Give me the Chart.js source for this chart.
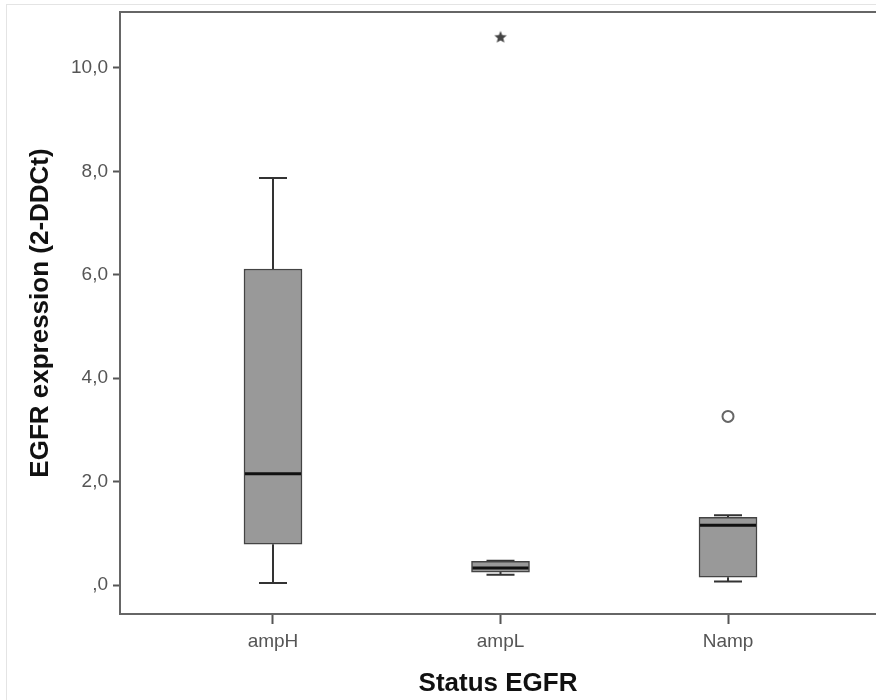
<!DOCTYPE html>
<html>
<head>
<meta charset="utf-8">
<title>EGFR expression by status</title>
<script src="https://cdn.jsdelivr.net/npm/chart.js@4/dist/chart.umd.min.js"></script>
<style>
    html, body { margin: 0; padding: 0; background: #fff; overflow: hidden; }
    #wrap { position: relative; width: 876px; height: 700px; overflow: hidden; }
    #frame { position: absolute; left: 6px; top: 4px; width: 900px; height: 720px;
             border-left: 1px solid #e4e4e4; border-top: 1px solid #e4e4e4; }
    canvas { position: absolute; left: 0; top: 0; }
</style>
</head>
<body>
<div id="wrap">
    <div id="frame"></div>
    <canvas id="chart" width="876" height="700"></canvas>
</div>
<script>
// Box plot data
const categories = ['ampH', 'ampL', 'Namp'];
const whiskerLow  = [0.04, 0.20, 0.07];
const boxLow      = [0.79, 0.25, 0.15];
const medians     = [2.15, 0.33, 1.155];
const boxHigh     = [6.11, 0.46, 1.31];
const whiskerHigh = [7.87, 0.47, 1.35];
// extreme (*) and outlier (o) points: category index + value
const extremeCats = [1];
const extremeValues = [10.6];
const outlierCats = [2];
const outlierValues = [3.26];

const yTickValues = [0, 2, 4, 6, 8, 10];
const yTickLabels = [',0', '2,0', '4,0', '6,0', '8,0', '10,0'];

// filled five point star used for the extreme value
function makeStar(size, color) {
    const c = document.createElement('canvas');
    c.width = size; c.height = size;
    const g = c.getContext('2d');
    const cx = size / 2, cy = size / 2 + 0.5, R = size / 2 - 0.5, r = R * 0.45;
    g.beginPath();
    for (let i = 0; i < 10; i++) {
        const a = -Math.PI / 2 + i * Math.PI / 5;
        const rad = i % 2 === 0 ? R : r;
        g.lineTo(cx + rad * Math.cos(a), cy + rad * Math.sin(a));
    }
    g.closePath();
    g.fillStyle = color;
    g.fill();
    return c;
}

// whiskers behind the boxes, medians on top of them, and the top frame line
const boxPlotPlugin = {
    id: 'boxPlot',
    beforeDatasetsDraw(chart) {
        const ctx = chart.ctx;
        const xs = chart.scales.x, ys = chart.scales.y;
        ctx.save();
        ctx.strokeStyle = '#333';
        ctx.lineWidth = 2;
        categories.forEach((c, i) => {
            const x = xs.getPixelForValue(i + 1);
            const capHalf = 14;
            ctx.beginPath();
            ctx.moveTo(x, ys.getPixelForValue(whiskerLow[i]));
            ctx.lineTo(x, ys.getPixelForValue(boxLow[i]));
            ctx.moveTo(x, ys.getPixelForValue(boxHigh[i]));
            ctx.lineTo(x, ys.getPixelForValue(whiskerHigh[i]));
            ctx.moveTo(x - capHalf, ys.getPixelForValue(whiskerLow[i]));
            ctx.lineTo(x + capHalf, ys.getPixelForValue(whiskerLow[i]));
            ctx.moveTo(x - capHalf, ys.getPixelForValue(whiskerHigh[i]));
            ctx.lineTo(x + capHalf, ys.getPixelForValue(whiskerHigh[i]));
            ctx.stroke();
        });
        ctx.restore();
    },
    afterDatasetsDraw(chart) {
        const ctx = chart.ctx;
        const xs = chart.scales.x, ys = chart.scales.y;
        const area = chart.chartArea;
        ctx.save();
        ctx.strokeStyle = '#111';
        ctx.lineWidth = 3;
        categories.forEach((c, i) => {
            const x = xs.getPixelForValue(i + 1);
            const y = ys.getPixelForValue(medians[i]);
            ctx.beginPath();
            ctx.moveTo(x - 28, y);
            ctx.lineTo(x + 28, y);
            ctx.stroke();
        });
        // top frame line (right side of the frame is off the picture)
        ctx.strokeStyle = '#666';
        ctx.lineWidth = 2;
        ctx.beginPath();
        ctx.moveTo(area.left, area.top);
        ctx.lineTo(chart.width + 10, area.top);
        ctx.stroke();
        ctx.restore();
    }
};

document.addEventListener('DOMContentLoaded', function() {
    const ctx = document.getElementById('chart');

    const boxData = categories.map((c, i) => ({ x: i + 1, y: [boxLow[i], boxHigh[i]] }));
    const extremeData = extremeCats.map((c, i) => ({ x: c + 1, y: extremeValues[i] }));
    const outlierData = outlierCats.map((c, i) => ({ x: c + 1, y: outlierValues[i] }));

    new Chart(ctx, {
        type: 'bar',
        data: {
            datasets: [
                {
                    label: 'box',
                    data: boxData,
                    backgroundColor: '#999999',
                    borderColor: '#444',
                    borderWidth: 1.5,
                    borderSkipped: false,
                    barThickness: 58
                },
                {
                    type: 'scatter',
                    label: 'extreme',
                    data: extremeData,
                    pointStyle: makeStar(14, '#444'),
                    pointRadius: 7
                },
                {
                    type: 'scatter',
                    label: 'outlier',
                    data: outlierData,
                    pointStyle: 'circle',
                    pointRadius: 5.5,
                    backgroundColor: '#fff',
                    borderColor: '#666',
                    borderWidth: 2
                }
            ]
        },
        options: {
            responsive: false,
            animation: false,
            layout: { autoPadding: false, padding: { top: 12, right: 0, left: 0, bottom: 0 } },
            plugins: {
                legend: { display: false },
                tooltip: { enabled: false }
            },
            scales: {
                x: {
                    type: 'linear',
                    offset: false,
                    min: 0.3275,
                    max: 3.6505,
                    afterBuildTicks: scale => {
                        scale.ticks = categories.map((c, i) => ({ value: i + 1 }));
                    },
                    afterFit: scale => {
                        scale.height = 86;
                        scale.paddingLeft = 0;
                        scale.paddingRight = 0;
                    },
                    ticks: {
                        callback: v => categories[v - 1],
                        color: '#555',
                        font: { family: 'Liberation Sans, Arial, sans-serif', size: 19 },
                        padding: 6,
                        maxRotation: 0
                    },
                    grid: { drawOnChartArea: false, offset: false, tickLength: 10, color: '#555', tickWidth: 2 },
                    border: { color: '#666', width: 2 },
                    title: {
                        display: true,
                        text: 'Status EGFR',
                        color: '#111',
                        font: { family: 'Liberation Sans, Arial, sans-serif', size: 26, weight: 'bold', lineHeight: 1.2 },
                        padding: { top: 0, bottom: 1 }
                    }
                },
                y: {
                    min: -0.56,
                    max: 11.08,
                    afterBuildTicks: scale => {
                        scale.ticks = yTickValues.map(v => ({ value: v }));
                    },
                    afterFit: scale => {
                        scale.width = 120;
                        scale.paddingTop = 0;
                        scale.paddingBottom = 0;
                    },
                    ticks: {
                        callback: v => yTickLabels[yTickValues.indexOf(v)],
                        color: '#555',
                        font: { family: 'Liberation Sans, Arial, sans-serif', size: 19 },
                        padding: 5
                    },
                    grid: { drawOnChartArea: false, tickLength: 7, color: '#555', tickWidth: 2 },
                    border: { color: '#666', width: 2 },
                    title: {
                        display: true,
                        text: 'EGFR expression (2-DDCt)',
                        color: '#111',
                        font: { family: 'Liberation Sans, Arial, sans-serif', size: 26, weight: 'bold', lineHeight: 1.2 },
                        padding: { top: 25, bottom: 0 }
                    }
                }
            }
        },
        plugins: [boxPlotPlugin]
    });
});
</script>
</body>
</html>
